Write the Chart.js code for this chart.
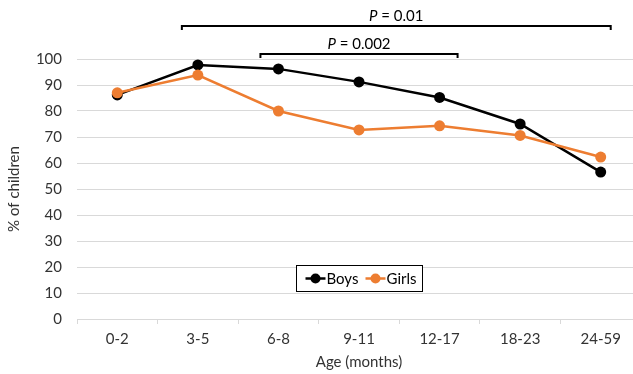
<!DOCTYPE html>
<html>
<head>
<meta charset="utf-8">
<script src="https://cdn.jsdelivr.net/npm/chart.js@4/dist/chart.umd.min.js"></script>
<style>
  html, body { margin: 0; padding: 0; background: #fff; overflow: hidden; }
  #wrap { width: 660px; height: 374px; position: relative; }
</style>
</head>
<body>
<div id="wrap"><canvas id="c"></canvas></div>
<script>
// ---- data ----
const categories = ['0-2', '3-5', '6-8', '9-11', '12-17', '18-23', '24-59'];
const boysValues = [86.2, 97.7, 96.2, 91.2, 85.2, 75.0, 56.5];
const girlsValues = [87.0, 93.8, 80.0, 72.7, 74.3, 70.6, 62.3];
const seriesNames = ['Boys', 'Girls'];
const yTickValues = [0, 10, 20, 30, 40, 50, 60, 70, 80, 90, 100];
const bracketFrom = ['3-5', '6-8'];
const bracketTo = ['24-59', '12-17'];
const bracketP = ['0.01', '0.002'];
const yTitle = '% of children';
const xTitle = 'Age (months)';

const FONT = 'Lato';
const TXT = '#333333';
const GRID = '#d9d9d9';
const BOYS_C = '#000000';
const GIRLS_C = '#ED7D31';

// bracket styling (pixels): [leftExtend, rightExtend, distanceAboveTop]
const bracketStyle = [
  { l: 16, r: 10, up: 33 },
  { l: 18, r: 18, up: 5 }
];

const overlay = {
  id: 'overlay',
  afterDraw(chart) {
    const ctx = chart.ctx;
    const x = chart.scales.x;
    const ca = chart.chartArea;
    ctx.save();
    // brackets
    bracketFrom.forEach((f, i) => {
      const st = bracketStyle[i];
      const x1 = x.getPixelForValue(categories.indexOf(f)) - st.l;
      const x2 = x.getPixelForValue(categories.indexOf(bracketTo[i])) + st.r;
      const y = ca.top - st.up;
      ctx.strokeStyle = '#000';
      ctx.lineWidth = 2;
      ctx.beginPath();
      ctx.moveTo(x1, y + 4);
      ctx.lineTo(x1, y);
      ctx.lineTo(x2, y);
      ctx.lineTo(x2, y + 4);
      ctx.stroke();
      // label
      ctx.fillStyle = '#000';
      ctx.textBaseline = 'alphabetic';
      const italic = 'italic 15px ' + FONT;
      const normal = '15px ' + FONT;
      ctx.font = italic;
      const wP = ctx.measureText('P').width;
      ctx.font = normal;
      const rest = ' = ' + bracketP[i];
      const wR = ctx.measureText(rest).width;
      const cx = (x1 + x2) / 2;
      const sx = cx - (wP + wR) / 2;
      const ty = y - 5;
      ctx.font = italic;
      ctx.textAlign = 'left';
      ctx.fillText('P', sx, ty);
      ctx.font = normal;
      ctx.fillText(rest, sx + wP, ty);
    });
    // legend
    const bw = 126, bh = 26;
    const bx = Math.round((ca.left + ca.right) / 2 - bw / 2) + 0.5;
    const by = Math.round(ca.bottom - 28 - bh) + 0.5;
    ctx.fillStyle = '#fff';
    ctx.fillRect(bx, by, bw, bh);
    ctx.strokeStyle = '#000';
    ctx.lineWidth = 1;
    ctx.strokeRect(bx, by, bw, bh);
    const cy = by + bh / 2;
    const items = [
      { name: seriesNames[0], color: BOYS_C, lx: bx + 9 },
      { name: seriesNames[1], color: GIRLS_C, lx: bx + 69 }
    ];
    ctx.font = '15px ' + FONT;
    ctx.textBaseline = 'middle';
    ctx.textAlign = 'left';
    items.forEach(it => {
      ctx.strokeStyle = it.color;
      ctx.lineWidth = 2.5;
      ctx.beginPath();
      ctx.moveTo(it.lx, cy);
      ctx.lineTo(it.lx + 20, cy);
      ctx.stroke();
      ctx.fillStyle = it.color;
      ctx.beginPath();
      ctx.arc(it.lx + 10, cy, 5, 0, Math.PI * 2);
      ctx.fill();
      ctx.fillStyle = '#000';
      ctx.fillText(it.name, it.lx + 21, cy + 1);
    });
    ctx.restore();
  }
};

const bg = {
  id: 'bg',
  beforeDraw(chart) {
    const ctx = chart.ctx;
    ctx.save();
    ctx.fillStyle = '#fff';
    ctx.fillRect(0, 0, chart.width, chart.height);
    ctx.restore();
  }
};

new Chart(document.getElementById('c'), {
  type: 'line',
  data: {
    labels: categories,
    datasets: [
      {
        label: seriesNames[0], data: boysValues, order: 2,
        borderColor: BOYS_C, backgroundColor: BOYS_C,
        borderWidth: 2.5, pointRadius: 5.5, pointBorderWidth: 0,
        pointBackgroundColor: BOYS_C, tension: 0
      },
      {
        label: seriesNames[1], data: girlsValues, order: 1,
        borderColor: GIRLS_C, backgroundColor: GIRLS_C,
        borderWidth: 2.5, pointRadius: 5.5, pointBorderWidth: 0,
        pointBackgroundColor: GIRLS_C, tension: 0
      }
    ]
  },
  options: {
    responsive: true,
    maintainAspectRatio: false,
    animation: false,
    events: [],
    layout: { padding: { top: 59, right: 19, bottom: 0, left: 0 } },
    plugins: { legend: { display: false }, tooltip: { enabled: false } },
    scales: {
      x: {
        offset: true,
        grid: { display: true, drawOnChartArea: false, drawTicks: true, tickLength: 5, color: GRID, offset: true },
        border: { display: true, color: GRID, width: 1 },
        ticks: { color: TXT, font: { family: FONT, size: 15 }, padding: 6, maxRotation: 0 },
        title: { display: true, text: xTitle, color: TXT, font: { family: FONT, size: 15 }, padding: { top: 0, bottom: 3 } },
        afterFit(s) { s.height = 55; }
      },
      y: {
        min: 0, max: 100,
        afterBuildTicks(s) { s.ticks = yTickValues.map(v => ({ value: v })); },
        grid: { color: GRID, drawTicks: false, lineWidth: 1 },
        border: { display: false },
        ticks: { color: TXT, font: { family: FONT, size: 15 }, padding: 15 },
        title: { display: true, text: yTitle, color: TXT, font: { family: FONT, size: 15 }, padding: { top: 5, bottom: 0 } },
        afterFit(s) { s.width = 77; }
      }
    }
  },
  plugins: [bg, overlay]
});
</script>
</body>
</html>
